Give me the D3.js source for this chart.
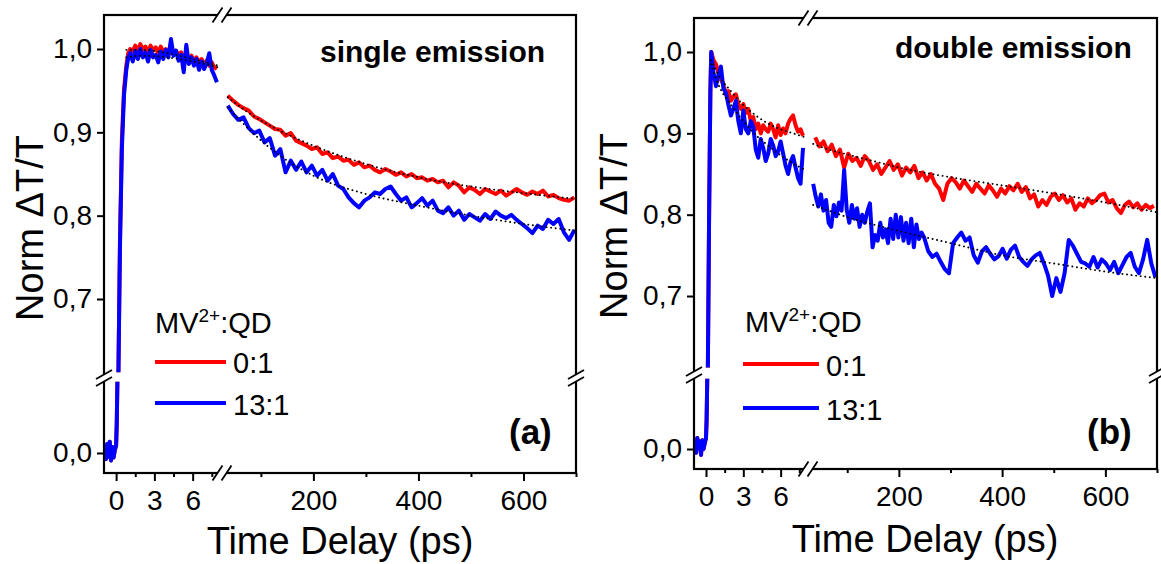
<!DOCTYPE html>
<html><head><meta charset="utf-8">
<script src="https://cdn.jsdelivr.net/npm/d3@7"></script>
<style>
body{margin:0;background:#fff}
svg{display:block}
text{font-family:"Liberation Sans",Arial,sans-serif;fill:#000}
</style>
</head><body>
<svg id="c" width="1161" height="564"></svg>
<script>
// ---------------- DATA ----------------
const seriesNames = ["0:1", "13:1"];
const seriesColors = ["#ff0000", "#0000ff"];
const legendTitle = ["MV", "2+", ":QD"];
const panelTitles = ["single emission", "double emission"];
const panelLetters = ["(a)", "(b)"];
const xTitle = "Time Delay (ps)";
const yTitle = "Norm \u0394T/T";
const xTicksEarly = [0, 3, 6];
const xMinorEarly = [1.5, 4.5, 7.5];
const xTicksLate = [200, 400, 600];
const xMinorLate = [100, 300, 500, 700];
const yTicksUpper = [0.7, 0.8, 0.9, 1.0];
const yTicksLower = [0.0];

// Panel (a) – single emission, early window (ps)
const aTimeEarly = [-0.9,-0.8,-0.7,-0.6,-0.5,-0.4,-0.3,-0.2,-0.1,0.0,0.05,0.1,0.18,0.3,0.45,0.62,0.8,0.95,1.1,1.3,1.5,1.7,1.9,2.1,2.3,2.5,2.7,2.9,3.1,3.3,3.5,3.7,3.9,4.1,4.3,4.5,4.7,4.9,5.1,5.3,5.5,5.7,5.9,6.1,6.3,6.5,6.7,6.9,7.1,7.3,7.5,7.7,7.9];
const aRedEarly = [0.005,-0.008,0.012,-0.005,0.015,-0.01,0.008,-0.006,0.004,0.01,0.04,0.095,
  0.612,0.77,0.89,0.952,0.98,0.995,
  1.0,0.997,1.004,0.998,1.006,0.999,1.003,0.996,1.004,0.998,
  1.002,0.995,1.003,0.996,1.0,0.994,0.999,0.993,0.998,0.992,
  0.996,0.989,0.994,0.988,0.992,0.986,0.99,0.984,0.988,0.982,
  0.986,0.98,0.984,0.978,0.976];
const aBlueEarly = [0.005,-0.008,0.012,-0.005,0.015,-0.01,0.008,-0.006,0.004,0.01,0.04,0.095,
  0.612,0.76,0.88,0.945,0.975,0.99,
  0.995,0.985,0.998,0.988,1.0,0.99,0.996,0.985,0.999,0.99,
  0.993,0.984,0.997,0.988,0.999,0.99,1.012,0.992,0.998,0.986,
  0.993,0.972,1.005,0.982,0.99,0.98,0.988,0.975,0.985,0.976,
  0.983,0.995,0.975,0.968,0.96];
// Panel (a) – late window (ps)
const aTimeLate = [37,47,57,67,77,87,97,107,117,127,137,147,157,167,177,187,197,207,217,227,237,247,257,267,277,287,297,307,317,327,337,347,357,367,377,387,397,407,417,427,437,447,457,467,477,487,497,507,517,527,537,547,557,567,577,587,597,607,617,627,637,647,657,667,677,687,697];
const aRedLate = [0.944,0.938,0.933,0.929,0.926,0.919,0.916,0.912,0.908,0.904,
  0.903,0.896,0.899,0.890,0.887,0.884,0.880,0.882,0.874,0.876,
  0.869,0.871,0.866,0.867,0.861,0.864,0.858,0.860,0.855,0.852,
  0.856,0.853,0.849,0.852,0.847,0.850,0.845,0.846,0.842,0.844,
  0.840,0.842,0.834,0.840,0.836,0.828,0.834,0.831,0.826,0.832,
  0.829,0.826,0.830,0.824,0.828,0.832,0.828,0.825,0.829,0.826,
  0.830,0.823,0.825,0.821,0.819,0.818,0.822];
const aBlueLate = [0.932,0.922,0.915,0.918,0.905,0.899,0.902,0.888,0.893,0.872,
  0.880,0.852,0.866,0.855,0.865,0.852,0.860,0.848,0.855,0.842,
  0.850,0.836,0.832,0.822,0.815,0.810,0.818,0.822,0.828,0.826,
  0.832,0.835,0.826,0.818,0.822,0.810,0.815,0.821,0.812,0.818,
  0.806,0.803,0.810,0.800,0.806,0.795,0.802,0.798,0.794,0.802,
  0.796,0.805,0.800,0.797,0.801,0.795,0.790,0.785,0.779,0.788,
  0.784,0.795,0.790,0.796,0.780,0.771,0.783];
// Panel (a) fits
const aFitTimeEarly = [0.8, 2, 4, 6, 8];
const aFitRedEarly = [0.999, 0.999, 0.995, 0.988, 0.98];
const aFitBlueEarly = [0.99, 0.992, 0.99, 0.985, 0.978];
const aFitTimeLate = [37, 80, 130, 200, 300, 400, 500, 600, 700];
const aFitRedLate = [0.942, 0.922, 0.904, 0.884, 0.862, 0.846, 0.835, 0.827, 0.82];
const aFitBlueLate = [0.93, 0.902, 0.875, 0.848, 0.826, 0.812, 0.8, 0.79, 0.782];

// Panel (b) – double emission, early window
const bTimeEarly = [-0.9,-0.8,-0.7,-0.6,-0.5,-0.4,-0.3,-0.2,-0.1,0.0,0.05,0.1,0.15,0.25,0.35,0.42,0.6,0.8,1.0,1.2,1.4,1.6,1.8,2.0,2.2,2.4,2.6,2.8,3.0,3.2,3.4,3.6,3.8,4.0,4.2,4.4,4.6,4.8,5.0,5.2,5.4,5.6,5.8,6.0,6.2,6.4,6.6,6.8,7.0,7.2,7.4,7.6,7.8];
const bRedEarly = [0.012,-0.005,0.015,0.002,0.01,-0.008,0.012,0.0,0.008,0.015,0.04,0.095,
  0.612,0.8,0.95,1.0,
  0.99,0.985,0.975,0.966,0.96,0.948,0.952,0.94,0.945,0.948,
  0.936,0.93,0.936,0.925,0.93,0.915,0.92,0.905,0.912,0.9,
  0.91,0.905,0.902,0.912,0.905,0.895,0.91,0.898,0.906,0.9,
  0.912,0.918,0.922,0.91,0.902,0.905,0.897];
const bBlueEarly = [0.012,-0.005,0.015,0.002,0.01,-0.008,0.012,0.0,0.008,0.015,0.04,0.095,
  0.612,0.8,0.95,1.0,
  0.975,0.958,0.972,0.982,0.955,0.95,0.935,0.922,0.93,0.94,
  0.915,0.9,0.928,0.905,0.9,0.915,0.908,0.88,0.87,0.893,
  0.882,0.866,0.875,0.893,0.885,0.872,0.878,0.89,0.875,0.86,
  0.85,0.865,0.872,0.858,0.845,0.838,0.882];
// Panel (b) – late window
const bRedTimeLate = [38,46,54,62,70,78,86,94,102,110,118,126,134,142,150,158,166,174,182,190,198,206,214,222,230,238,246,254,262,270,278,286,294,302,310,318,326,334,342,350,358,366,374,382,390,398,406,414,422,430,438,446,454,462,470,478,486,494,502,510,518,526,534,542,550,558,566,574,582,590,598,606,614,622,630,638,646,654,662,670,678,686,694];
const bRedLate = [0.895,0.884,0.89,0.878,0.886,0.872,0.88,0.858,0.875,0.866,
  0.87,0.86,0.872,0.866,0.855,0.862,0.85,0.858,0.866,0.855,
  0.862,0.848,0.858,0.852,0.86,0.845,0.852,0.842,0.85,0.838,
  0.832,0.818,0.838,0.845,0.84,0.832,0.842,0.835,0.828,0.838,
  0.832,0.826,0.836,0.83,0.822,0.832,0.826,0.835,0.83,0.838,
  0.828,0.834,0.82,0.825,0.81,0.818,0.812,0.822,0.826,0.818,
  0.824,0.815,0.82,0.806,0.814,0.81,0.82,0.814,0.818,0.824,
  0.826,0.815,0.818,0.808,0.802,0.812,0.816,0.809,0.814,0.806,
  0.812,0.808,0.811];
const bBlueTimeLate = [34,39,44,49,54,59,64,69,74,79,84,89,94,99,104,109,114,119,124,129,134,139,144,149,154,159,164,169,174,179,184,189,194,199,204,209,214,219,224,229,234,239,244,249,257,265,273,281,289,297,305,313,321,329,337,345,353,361,369,377,385,393,401,409,417,425,433,441,449,457,465,473,481,489,497,505,513,521,529,537,545,553,561,569,577,585,593,601,609,617,625,633,641,649,657,665,673,681,689,697];
const bBlueLate = [0.838,0.822,0.81,0.825,0.805,0.818,0.79,0.785,0.812,0.798,
  0.815,0.805,0.855,0.806,0.79,0.812,0.795,0.808,0.785,0.8,
  0.79,0.804,0.814,0.76,0.775,0.768,0.79,0.772,0.782,0.765,
  0.795,0.77,0.8,0.772,0.797,0.768,0.79,0.765,0.795,0.76,
  0.788,0.77,0.778,0.772,
  0.755,0.748,0.752,0.742,0.733,0.728,0.765,0.772,0.778,0.768,
  0.772,0.75,0.741,0.755,0.76,0.752,0.745,0.749,0.758,0.746,
  0.757,0.762,0.748,0.742,0.737,0.745,0.75,0.753,0.74,0.725,
  0.70,0.722,0.705,0.728,0.769,0.762,0.752,0.742,0.74,0.736,
  0.748,0.735,0.745,0.74,0.732,0.742,0.728,0.738,0.748,0.753,
  0.736,0.728,0.745,0.769,0.74,0.723];
// Panel (b) fits
const bFitTimeEarly = [0.42, 1, 2, 3, 4, 5, 6, 7, 8];
const bFitRedEarly = [0.99, 0.972, 0.952, 0.935, 0.922, 0.912, 0.905, 0.9, 0.895];
const bFitBlueEarly = [0.985, 0.96, 0.935, 0.915, 0.898, 0.885, 0.873, 0.863, 0.855];
const bFitTimeLate = [34, 60, 100, 150, 200, 300, 400, 500, 600, 700];
const bFitRedLate = [0.887, 0.881, 0.874, 0.866, 0.858, 0.846, 0.836, 0.826, 0.815, 0.803];
const bFitBlueLate = [0.812, 0.806, 0.797, 0.788, 0.78, 0.765, 0.75, 0.74, 0.73, 0.722];

// ---------------- DRAWING ----------------
const svg = d3.select("#c");
const comma = d => d3.format(".1f")(d).replace(".", ",");
const LW = 4;

const panels = [
  { left:104, right:576, top:15, bottom:473, xBreak:222, yBreak:378,
    xLdom:[-0.95, 8.3], xRdom:[26, 700], yUdom:[0.6052, 1.0408], yLdom:[-0.0267, 0.1],
    early:[[aTimeEarly,aRedEarly],[aTimeEarly,aBlueEarly]],
    late:[[aTimeLate,aRedLate],[aTimeLate,aBlueLate]],
    fitsEarly:[[aFitTimeEarly,aFitRedEarly],[aFitTimeEarly,aFitBlueEarly]],
    fitsLate:[[aFitTimeLate,aFitRedLate],[aFitTimeLate,aFitBlueLate]],
    yTitlePos:[43,228], xTitlePos:[340,554],
    legend:{x:155, y:333, line:[155,226], rows:[362,403], textX:233, textY:[373,415]},
    title:{x:320,y:62}, letter:{x:509,y:444} },
  { left:694, right:1157, top:18, bottom:469, xBreak:808, yBreak:375,
    xLdom:[-0.965, 8.2], xRdom:[24, 700], yUdom:[0.6029, 1.0418], yLdom:[-0.027, 0.1],
    early:[[bTimeEarly,bRedEarly],[bTimeEarly,bBlueEarly]],
    late:[[bRedTimeLate,bRedLate],[bBlueTimeLate,bBlueLate]],
    fitsEarly:[[bFitTimeEarly,bFitRedEarly],[bFitTimeEarly,bFitBlueEarly]],
    fitsLate:[[bFitTimeLate,bFitRedLate],[bFitTimeLate,bFitBlueLate]],
    yTitlePos:[627,226], xTitlePos:[925,552],
    legend:{x:745, y:332, line:[743,819], rows:[364,408], textX:826, textY:[376,420]},
    title:{x:895,y:58}, letter:{x:1087,y:444} }
];

panels.forEach((p, pi) => {
  const g = svg.append("g");
  const xL = d3.scaleLinear().domain(p.xLdom).range([p.left, p.xBreak]);
  const xR = d3.scaleLinear().domain(p.xRdom).range([p.xBreak, p.right]);
  const yU = d3.scaleLinear().domain(p.yUdom).range([p.yBreak, p.top]);
  const yL = d3.scaleLinear().domain(p.yLdom).range([p.bottom, p.yBreak]);
  const py = v => v > 0.3 ? yU(v) : yL(v);

  const clipId = "clip" + pi;
  svg.append("clipPath").attr("id", clipId).append("rect")
    .attr("x", p.left).attr("y", p.top).attr("width", p.right - p.left).attr("height", p.bottom - p.top);
  const plot = g.append("g").attr("clip-path", `url(#${clipId})`);

  function draw(ts, vs, xs, color, width, dash, curve) {
    const runs = []; let cur = []; let prev = null;
    ts.forEach((t, i) => {
      const seg = vs[i] > 0.3;
      if (prev !== null && seg !== prev) { runs.push(cur); cur = []; }
      cur.push([xs(t), py(vs[i])]); prev = seg;
    });
    runs.push(cur);
    runs.forEach(r => {
      plot.append("path").attr("d", d3.line().curve(curve)(r))
        .attr("fill", "none").attr("stroke", color).attr("stroke-width", width)
        .attr("stroke-linejoin", "round").attr("stroke-linecap", dash ? "round" : "butt")
        .attr("stroke-dasharray", dash || null);
    });
  }
  [0, 1].forEach(s => {
    draw(p.early[s][0], p.early[s][1], xL, seriesColors[s], LW, null, d3.curveLinear);
    draw(p.late[s][0], p.late[s][1], xR, seriesColors[s], LW, null, d3.curveLinear);
  });
  [0, 1].forEach(s => {
    draw(p.fitsEarly[s][0], p.fitsEarly[s][1], xL, "#000", 1.9, "0.1,4.5", d3.curveMonotoneX);
    draw(p.fitsLate[s][0], p.fitsLate[s][1], xR, "#000", 1.9, "0.1,4.5", d3.curveMonotoneX);
  });

  // frame
  g.append("rect").attr("x", p.left).attr("y", p.top)
    .attr("width", p.right - p.left).attr("height", p.bottom - p.top)
    .attr("fill", "none").attr("stroke", "#000").attr("stroke-width", 2.2);

  // axes
  const styleAxis = sel => { sel.select(".domain").remove(); sel.selectAll("line").attr("stroke-width", 2); };
  const fs = "28px";
  [[xL, xTicksEarly, xMinorEarly], [xR, xTicksLate, xMinorLate]].forEach(([sc, maj, mnr]) => {
    g.append("g").attr("transform", `translate(0,${p.bottom})`)
      .call(d3.axisBottom(sc).tickValues(maj).tickSize(8).tickPadding(9).tickFormat(d3.format("d")))
      .call(styleAxis).selectAll("text").style("font-size", fs).attr("font-family", null);
    g.append("g").attr("transform", `translate(0,${p.bottom})`)
      .call(d3.axisBottom(sc).tickValues(mnr).tickSize(4).tickFormat(""))
      .call(styleAxis);
  });
  [[yU, yTicksUpper], [yL, yTicksLower]].forEach(([sc, maj]) => {
    g.append("g").attr("transform", `translate(${p.left},0)`)
      .call(d3.axisLeft(sc).tickValues(maj).tickSize(7).tickPadding(5).tickFormat(comma))
      .call(styleAxis).selectAll("text").style("font-size", fs).attr("font-family", null);
  });
  g.selectAll(".tick text").attr("fill", "#000");

  // break marks
  function xBreakMark(x, y) {
    g.append("rect").attr("x", x - 4.5).attr("y", y - 3).attr("width", 9).attr("height", 6).attr("fill", "#fff");
    [-4.5, 4.5].forEach(dx => g.append("line")
      .attr("x1", x + dx - 5).attr("y1", y + 7.5).attr("x2", x + dx + 5).attr("y2", y - 7.5)
      .attr("stroke", "#000").attr("stroke-width", 1.8));
  }
  function yBreakMark(x, y) {
    g.append("rect").attr("x", x - 3).attr("y", y - 3.5).attr("width", 6).attr("height", 7).attr("fill", "#fff");
    [-3.5, 3.5].forEach(dy => g.append("line")
      .attr("x1", x - 8).attr("y1", y + dy + 4.5).attr("x2", x + 8).attr("y2", y + dy - 4.5)
      .attr("stroke", "#000").attr("stroke-width", 1.8));
  }
  xBreakMark(p.xBreak, p.top); xBreakMark(p.xBreak, p.bottom);
  yBreakMark(p.left, p.yBreak); yBreakMark(p.right, p.yBreak);

  // titles
  g.append("text").attr("transform", `translate(${p.yTitlePos[0]},${p.yTitlePos[1]}) rotate(-90)`)
    .attr("text-anchor", "middle").style("font-size", "38px").text(yTitle);
  g.append("text").attr("x", p.xTitlePos[0]).attr("y", p.xTitlePos[1])
    .attr("text-anchor", "middle").style("font-size", "38px").text(xTitle);
  g.append("text").attr("x", p.title.x).attr("y", p.title.y)
    .style("font-size", "30px").style("font-weight", "bold").text(panelTitles[pi]);
  g.append("text").attr("x", p.letter.x).attr("y", p.letter.y)
    .style("font-size", "35px").style("font-weight", "bold").text(panelLetters[pi]);

  // legend
  const lt = g.append("text").attr("x", p.legend.x).attr("y", p.legend.y).style("font-size", "29px");
  lt.append("tspan").text(legendTitle[0]);
  lt.append("tspan").attr("dy", -11).style("font-size", "19px").text(legendTitle[1]);
  lt.append("tspan").attr("dy", 11).text(legendTitle[2]);
  [0, 1].forEach(s => {
    g.append("line").attr("x1", p.legend.line[0]).attr("x2", p.legend.line[1])
      .attr("y1", p.legend.rows[s]).attr("y2", p.legend.rows[s])
      .attr("stroke", seriesColors[s]).attr("stroke-width", LW);
    g.append("text").attr("x", p.legend.textX).attr("y", p.legend.textY[s])
      .style("font-size", "29px").text(seriesNames[s]);
  });
});
</script>
</body></html>
